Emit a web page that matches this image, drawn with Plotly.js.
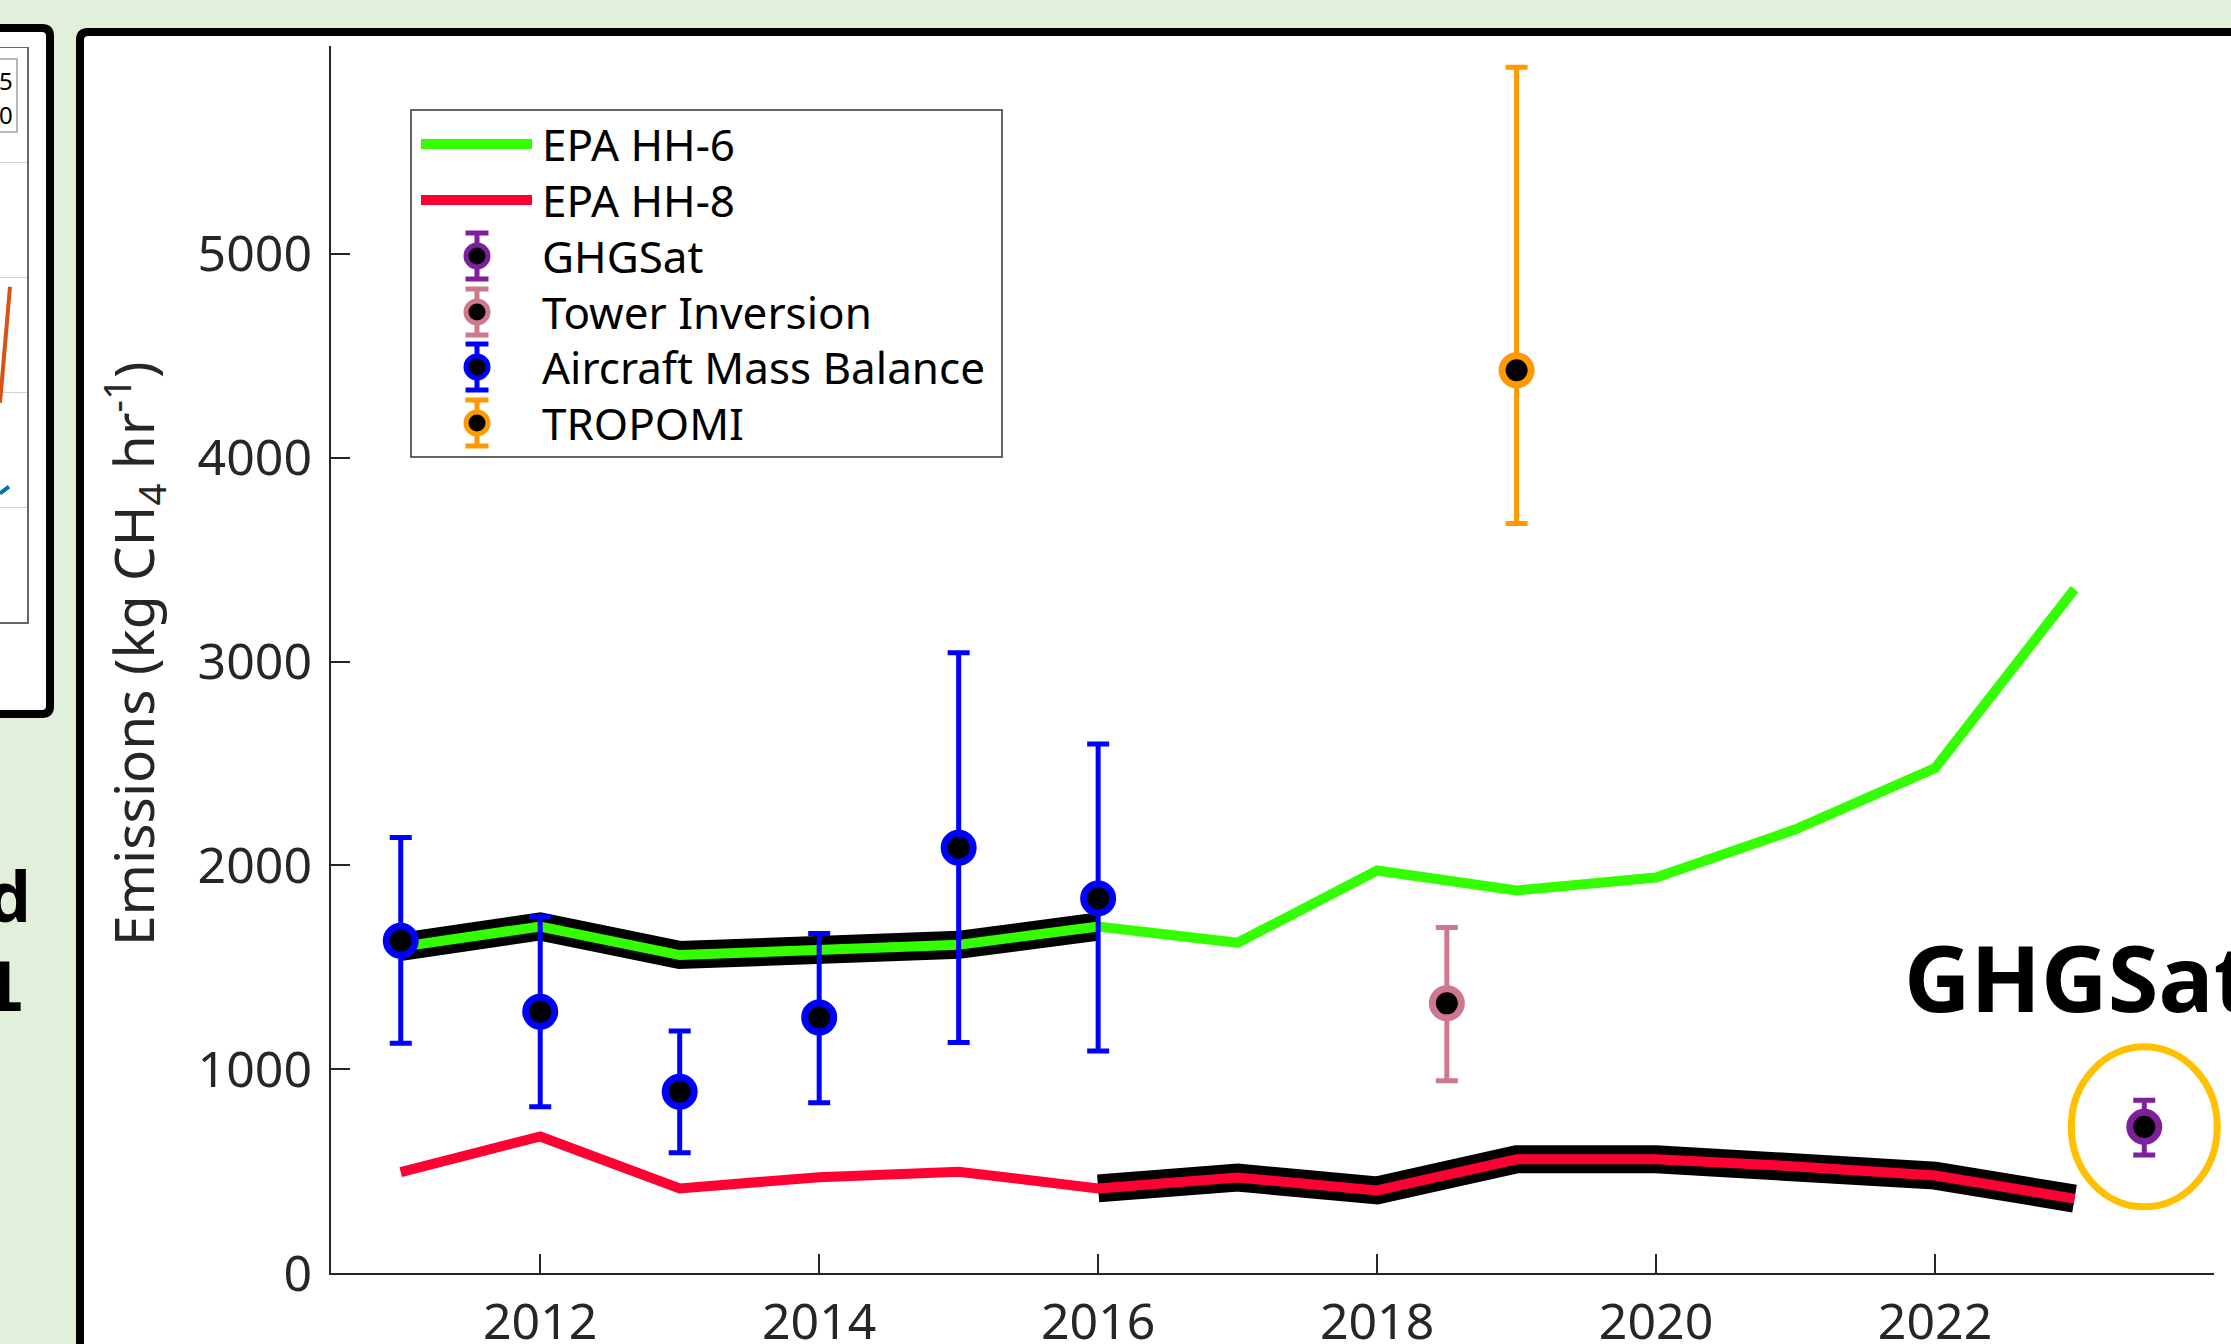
<!DOCTYPE html>
<html><head><meta charset="utf-8">
<script src="https://cdn.plot.ly/plotly-3.0.1.min.js"></script>
<style>html,body{margin:0;padding:0;background:#E2EFDA;overflow:hidden}</style>
</head><body><div id="chart" style="width:2231px;height:1344px"></div>
<script>
// ---------------- data ----------------
const years = [2011, 2012, 2013, 2014, 2015, 2016, 2017, 2018, 2019, 2020, 2021, 2022, 2023];
const epaHH6 = [1600, 1700, 1560, 1580, 1610, 1700, 1620, 1975, 1877, 1940, 2177, 2477, 3355];
const epaHH8 = [495, 670, 415, 470, 497, 415, 468, 405, 558, 558, 523, 478, 365];
const hh6OutlineSpan = [2011, 2016];
const hh8OutlineSpan = [2016, 2023];

const aircraftYears = [2011, 2012, 2013, 2014, 2015, 2016];
const aircraftValues = [1630, 1282, 889, 1254, 2086, 1838];
const aircraftErrPlus = [507, 466, 298, 412, 957, 758];
const aircraftErrMinus = [503, 466, 299, 419, 955, 749];

const towerYears = [2018.5];
const towerValues = [1323];
const towerErrPlus = [372];
const towerErrMinus = [380];

const tropomiYears = [2019];
const tropomiValues = [4429];
const tropomiErrPlus = [1487];
const tropomiErrMinus = [752];

const ghgsatYears = [2023.5];
const ghgsatValues = [717];
const ghgsatErrPlus = [131];
const ghgsatErrMinus = [138];

const xTickVals = [2012, 2014, 2016, 2018, 2020, 2022, 2024];
const xTickLabels = ['2012', '2014', '2016', '2018', '2020', '2022', '2024'];
const yTickVals = [0, 1000, 2000, 3000, 4000, 5000];
const yTickLabels = ['0', '1000', '2000', '3000', '4000', '5000'];

const legendNames = ['EPA HH-6', 'EPA HH-8', 'GHGSat', 'Tower Inversion', 'Aircraft Mass Balance', 'TROPOMI'];

// fragment of the neighbouring panel on the slide (cut off at the left edge)
const leftFragX = [0, 1];
const leftFragOrange = [1.91, 2.92];
const leftFragBlueX = [0, 0.9];
const leftFragBlue = [1.12, 1.18];
const leftFragLegendDigits = ['5', '0'];

// ---------------- styles ----------------
const W = 2231, H = 1344;
const C = {
  green: '#33FF00', red: '#FF0033', blue: '#0000FF', tower: '#CE788D',
  tropomi: '#FF9900', ghgsat: '#7E1F9B', ring: '#FFC000', axis: '#262626'
};
const px = v => v / W;
const py = v => 1 - v / H;
// main plot geometry (pixels)
const PL = 331, PR = 2214, PB = 1273, PT = 46;
const XR = [2010.5, 2024], YR = [0, 6020];
const xToPx = x => PL + (x - XR[0]) / (XR[1] - XR[0]) * (PR - PL);
const yToPx = v => PB - (v - YR[0]) / (YR[1] - YR[0]) * (PB - PT);

function subset(xs, ys, span) {
  const ox = [], oy = [];
  xs.forEach((x, i) => { if (x >= span[0] && x <= span[1]) { ox.push(x); oy.push(ys[i]); } });
  return {x: ox, y: oy};
}
const hh6Out = subset(years, epaHH6, hh6OutlineSpan);
const hh8Out = subset(years, epaHH8, hh8OutlineSpan);

function errTrace(name, xs, ys, plus, minus, color) {
  return {
    type: 'scatter', mode: 'markers', name: name, x: xs, y: ys,
    marker: {color: '#000000', size: 29, line: {color: color, width: 7}},
    error_y: {type: 'data', symmetric: false, array: plus, arrayminus: minus,
              color: color, thickness: 5, width: 11},
    cliponaxis: false, xaxis: 'x', yaxis: 'y'
  };
}

const traces = [
  {type: 'scatter', mode: 'lines', x: hh6Out.x, y: hh6Out.y, line: {color: '#000000', width: 28}},
  {type: 'scatter', mode: 'lines', name: 'EPA HH-6', x: years, y: epaHH6, line: {color: C.green, width: 10}},
  {type: 'scatter', mode: 'lines', x: hh8Out.x, y: hh8Out.y, line: {color: '#000000', width: 28}},
  {type: 'scatter', mode: 'lines', name: 'EPA HH-8', x: years, y: epaHH8, line: {color: C.red, width: 10}},
  errTrace('Aircraft Mass Balance', aircraftYears, aircraftValues, aircraftErrPlus, aircraftErrMinus, C.blue),
  errTrace('Tower Inversion', towerYears, towerValues, towerErrPlus, towerErrMinus, C.tower),
  errTrace('TROPOMI', tropomiYears, tropomiValues, tropomiErrPlus, tropomiErrMinus, C.tropomi),
  errTrace('GHGSat', ghgsatYears, ghgsatValues, ghgsatErrPlus, ghgsatErrMinus, C.ghgsat),
  // neighbouring panel fragment
  {type: 'scatter', mode: 'lines', x: leftFragX, y: leftFragOrange, line: {color: '#D95319', width: 4}, xaxis: 'x2', yaxis: 'y2'},
  {type: 'scatter', mode: 'lines', x: leftFragBlueX, y: leftFragBlue, line: {color: '#0072BD', width: 4}, xaxis: 'x2', yaxis: 'y2'}
];

// ---------------- shapes ----------------
const shapes = [];
const r = 8;
function P(x, y) { return px(x).toFixed(6) + ',' + py(y).toFixed(6); }
// slide panels (rounded black frames, white fill)
shapes.push({type: 'path', xref: 'paper', yref: 'paper', layer: 'below',
  path: 'M' + P(80, 1420) + ' L' + P(80, 32 + r) + ' Q' + P(80, 32) + ' ' + P(80 + r, 32) + ' L' + P(2320, 32) + ' L' + P(2320, 1420) + ' Z',
  fillcolor: '#FFFFFF', line: {color: '#000000', width: 8}});
shapes.push({type: 'path', xref: 'paper', yref: 'paper', layer: 'below',
  path: 'M' + P(-60, 28) + ' L' + P(50 - r, 28) + ' Q' + P(50, 28) + ' ' + P(50, 28 + r) + ' L' + P(50, 714 - r) + ' Q' + P(50, 714) + ' ' + P(50 - r, 714) + ' L' + P(-60, 714) + ' Z',
  fillcolor: '#FFFFFF', line: {color: '#000000', width: 8}});
// legend box of the neighbouring panel fragment
shapes.push({type: 'rect', xref: 'paper', yref: 'paper', x0: px(-10), x1: px(17), y0: py(132), y1: py(59),
  fillcolor: '#FFFFFF', line: {color: '#A0A0A0', width: 1.5}});

// GHGSat highlight ring
const gx = xToPx(ghgsatYears[0]), gy = yToPx(ghgsatValues[0]);
shapes.push({type: 'circle', xref: 'paper', yref: 'paper', x0: px(gx - 73), x1: px(gx + 73), y0: py(gy + 80), y1: py(gy - 80),
  line: {color: C.ring, width: 7}});

// legend
const LG = {x0: 411, x1: 1002, y0: 110, y1: 457, rows: [144, 200, 256, 312, 367, 423], lineX0: 421, lineX1: 532, glyphX: 477, textX: 540};
shapes.push({type: 'rect', xref: 'paper', yref: 'paper', x0: px(LG.x0), x1: px(LG.x1), y0: py(LG.y1), y1: py(LG.y0),
  fillcolor: '#FFFFFF', line: {color: '#333333', width: 1.5}});
const legendColors = [C.green, C.red, C.ghgsat, C.tower, C.blue, C.tropomi];
const annotations = [];
legendNames.forEach((name, i) => {
  const ry = LG.rows[i];
  const col = legendColors[i];
  if (i < 2) {
    shapes.push({type: 'line', xref: 'paper', yref: 'paper', x0: px(LG.lineX0), x1: px(LG.lineX1), y0: py(ry), y1: py(ry), line: {color: col, width: 10}});
  } else {
    const gxL = LG.glyphX, h = 23, cw = 11.5, mr = 11;
    shapes.push({type: 'line', xref: 'paper', yref: 'paper', x0: px(gxL), x1: px(gxL), y0: py(ry - h), y1: py(ry + h), line: {color: col, width: 5}});
    shapes.push({type: 'line', xref: 'paper', yref: 'paper', x0: px(gxL - cw), x1: px(gxL + cw), y0: py(ry - h), y1: py(ry - h), line: {color: col, width: 5}});
    shapes.push({type: 'line', xref: 'paper', yref: 'paper', x0: px(gxL - cw), x1: px(gxL + cw), y0: py(ry + h), y1: py(ry + h), line: {color: col, width: 5}});
    shapes.push({type: 'circle', xref: 'paper', yref: 'paper', x0: px(gxL - mr), x1: px(gxL + mr), y0: py(ry + mr), y1: py(ry - mr), fillcolor: '#000000', line: {color: col, width: 5}});
  }
  annotations.push({xref: 'paper', yref: 'paper', x: px(LG.textX), y: py(ry), xanchor: 'left', yanchor: 'middle',
    text: name, showarrow: false, font: {family: 'Noto Sans', size: 44, color: '#000000'}});
});

// y axis title
annotations.push({xref: 'paper', yref: 'paper', x: px(134), y: py(654), xanchor: 'center', yanchor: 'middle', textangle: -90,
  text: 'Emissions (kg CH<sub>4</sub> hr<sup>-1</sup>)', showarrow: false, font: {family: 'Noto Sans', size: 55, color: C.axis}});
// GHGSat label
annotations.push({xref: 'paper', yref: 'paper', x: px(1902), y: py(976), xanchor: 'left', yanchor: 'middle',
  text: 'GHGSat', showarrow: false, font: {family: 'Open Sans', size: 92, weight: 700, color: '#000000'}});
// slide text fragments at the left edge
annotations.push({xref: 'paper', yref: 'paper', x: px(33), y: py(895), xanchor: 'right', yanchor: 'middle',
  text: 'd', showarrow: false, font: {family: 'Open Sans', size: 70, weight: 700, color: '#000000'}});
annotations.push({xref: 'paper', yref: 'paper', x: px(27), y: py(987), xanchor: 'right', yanchor: 'middle',
  text: '1', showarrow: false, font: {family: 'DejaVu Sans', size: 68, weight: 700, color: '#000000'}});
// legend digits of the neighbouring panel fragment
leftFragLegendDigits.forEach((d, i) => {
  annotations.push({xref: 'paper', yref: 'paper', x: px(15), y: py([80, 114][i]), xanchor: 'right', yanchor: 'middle',
    text: d, showarrow: false, font: {family: 'Noto Sans', size: 24, color: '#000000'}});
});

const layout = {
  width: W, height: H,
  margin: {l: 0, r: 0, t: 0, b: 0, pad: 0},
  paper_bgcolor: '#E2EFDA', plot_bgcolor: 'rgba(0,0,0,0)',
  showlegend: false,
  xaxis: {
    domain: [px(PL), px(PR)], range: XR, anchor: 'y',
    tickmode: 'array', tickvals: xTickVals, ticktext: xTickLabels,
    ticks: 'inside', ticklen: 19, tickwidth: 2, tickcolor: C.axis,
    showline: true, linecolor: C.axis, linewidth: 2, showgrid: false, zeroline: false,
    tickfont: {family: 'Noto Sans', size: 50, color: C.axis}, ticklabelstandoff: 4
  },
  yaxis: {
    domain: [py(PB), py(PT)], range: YR, anchor: 'x',
    tickmode: 'array', tickvals: yTickVals, ticktext: yTickLabels,
    ticks: 'inside', ticklen: 19, tickwidth: 2, tickcolor: C.axis,
    showline: true, linecolor: C.axis, linewidth: 2, showgrid: false, zeroline: false,
    tickfont: {family: 'Noto Sans', size: 50, color: C.axis}, ticklabelstandoff: 7
  },
  xaxis2: {
    domain: [0, px(27)], range: [0, 2.7], anchor: 'y2',
    showline: true, mirror: true, linecolor: '#666666', linewidth: 1.5,
    showgrid: false, zeroline: false, showticklabels: false, ticks: ''
  },
  yaxis2: {
    domain: [py(622), py(48)], range: [0, 5], anchor: 'x2', side: 'right',
    showline: true, linecolor: '#666666', linewidth: 1.5, dtick: 1,
    showgrid: true, gridcolor: '#D0D0D0', gridwidth: 1, zeroline: false, showticklabels: false, ticks: ''
  },
  shapes: shapes,
  annotations: annotations
};

Plotly.newPlot('chart', traces, layout, {staticPlot: true, displayModeBar: false});
</script>
</body></html>
